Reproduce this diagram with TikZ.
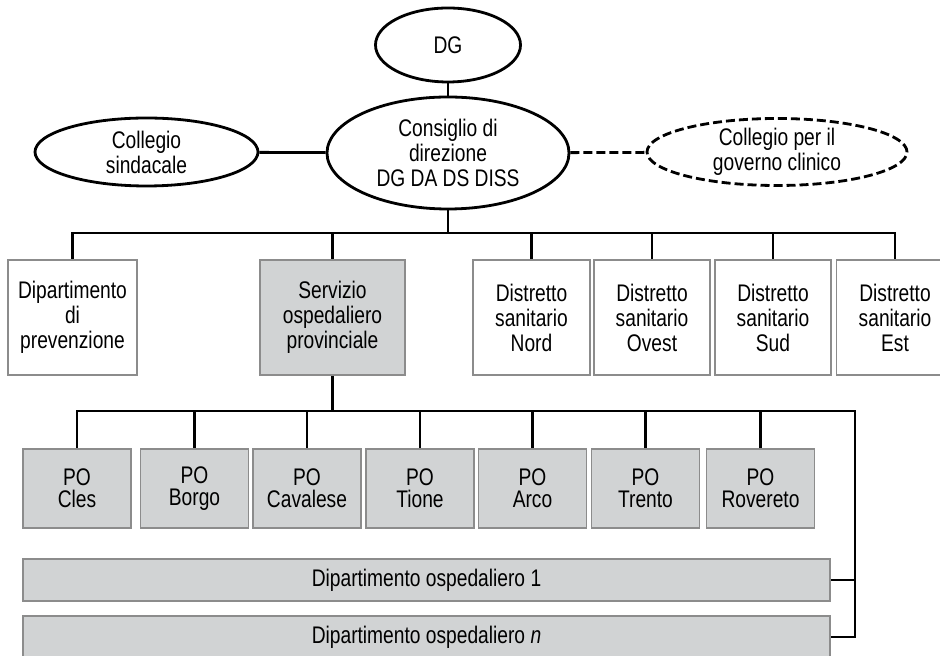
\documentclass[tikz,border=0pt]{standalone}
\usepackage{fontspec}
\setmainfont{Liberation Sans}[FakeStretch=0.8]
\usetikzlibrary{shapes}
\definecolor{boxgray}{HTML}{D1D3D4}
\definecolor{linegray}{HTML}{8C8C8C}

\begin{document}
\begin{tikzpicture}[x=0.5pt, y=-0.5pt, line width=1.4pt,
    font=\fontsize{12}{12.5}\selectfont,
    main/.style = {draw, ellipse, align=center, inner sep=0pt},
    unit/.style = {draw=linegray, line width=0.8pt, rectangle, align=center, minimum height=57.5pt},
    hosp/.style = {unit, fill=boxgray, minimum width=54pt, minimum height=39.5pt, font=\fontsize{12}{11}\selectfont},
    dept/.style = {unit, fill=boxgray, minimum width=403.5pt, minimum height=21pt},
    dashline/.style = {dash pattern=on 4.5pt off 2pt}]
    \useasboundingbox[fill=white] (0, 0) rectangle (940, 656);
    % Nodes

    \node[main, minimum width=72.5pt, minimum height=37pt] (1) at (448, 45) {DG};
    \node[main, minimum width=121pt, minimum height=56pt] (2) at (448, 153) {Consiglio di\\direzione\\DG DA DS DISS};
    \node[main, minimum width=111.5pt, minimum height=34pt] (3) at (146.5, 152) {Collegio\\sindacale};
    \node[main, dashline, minimum width=130pt, minimum height=33.5pt] (4) at (777, 152) {Collegio per il\\governo clinico};

    \node[unit, minimum width=64.5pt] (5) at (72.5, 317.5) {Dipartimento\\di\\prevenzione};
    \node[unit, fill=boxgray, minimum width=72.5pt] (6) at (332.5, 317.5) {Servizio\\ospedaliero\\provinciale};
    \node[unit, minimum width=58.5pt] (7) at (531.5, 317.5) {Distretto\\sanitario\\Nord};
    \node[unit, minimum width=58pt] (8) at (652, 317.5) {Distretto\\sanitario\\Ovest};
    \node[unit, minimum width=58pt] (9) at (773, 317.5) {Distretto\\sanitario\\Sud};
    \node[unit, minimum width=58.5pt] (10) at (895, 317.5) {Distretto\\sanitario\\Est};

    \node[hosp] (11) at (77, 488.5) {PO\\Cles};
    \node[hosp] (12) at (194.5, 488.5) {PO\\Borgo};
    \node[hosp] (13) at (307, 488.5) {PO\\Cavalese};
    \node[hosp] (14) at (420, 488.5) {PO\\Tione};
    \node[hosp] (15) at (532.5, 488.5) {PO\\Arco};
    \node[hosp] (16) at (645.5, 488.5) {PO\\Trento};
    \node[hosp] (17) at (760.5, 488.5) {PO\\Rovereto};

    \node[dept] (18) at (426.5, 580) {Dipartimento ospedaliero 1};
    \node[dept] (19) at (426.5, 637) {Dipartimento ospedaliero \textit{n}};

    \coordinate (b1) at (448, 233);
    \coordinate (b2) at (332.5, 411);
    \coordinate (b3) at (855, 411);

    % Edges
    \draw (1) -- (2);
    \draw (3) -- (2);
    \draw[dashline] (2) -- (4);
    \draw (2) -- (b1);
    \draw (b1) -| (5);
    \draw (b1) -| (6);
    \draw (b1) -| (7);
    \draw (b1) -| (8);
    \draw (b1) -| (9);
    \draw (b1) -| (10);
    \draw (6) -- (b2);
    \draw (b2) -| (11);
    \draw (b2) -| (12);
    \draw (b2) -| (13);
    \draw (b2) -| (14);
    \draw (b2) -| (15);
    \draw (b2) -| (16);
    \draw (b2) -| (17);
    \draw (b2) -- (b3) |- (19);
    \draw (18.east) -- (18.east -| b3);

\end{tikzpicture}
\end{document}
